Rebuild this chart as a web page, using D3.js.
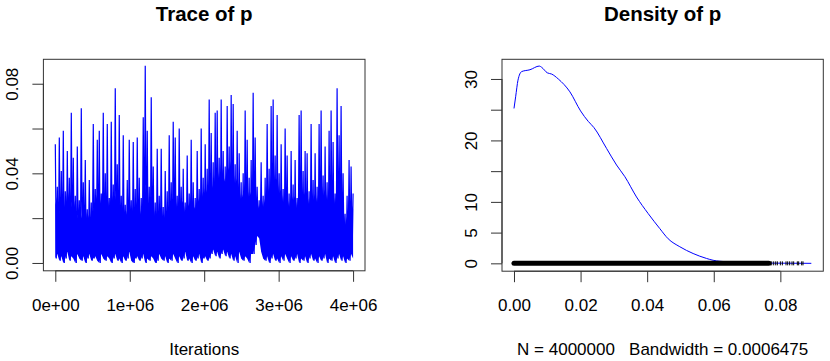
<!DOCTYPE html>
<html>
<head>
<meta charset="utf-8">
<script src="https://cdn.jsdelivr.net/npm/d3@7"></script>
<style>
    body { margin: 0; background: #fff; }
    svg { display: block; font-family: "Liberation Sans", Arial, sans-serif; }
    .tick text { font-size: 17px; fill: #000; }
    .tick line, .domain { stroke: #333; }
</style>
</head>
<body>
<div class="mc-charts"></div>
<script>
// trace of p, thinned chain: for each step a peak, a trough and the level of the dense core
var traceMaxIter = 4000000;
var traceHigh = [
    0.053, 0.034, 0.056, 0.041, 0.059, 0.032, 0.050, 0.038, 0.067, 0.047,
    0.030, 0.052, 0.028, 0.069, 0.036, 0.046, 0.024, 0.037, 0.027, 0.062,
    0.033, 0.055, 0.059, 0.031, 0.067, 0.040, 0.062, 0.029, 0.063, 0.035,
    0.078, 0.044, 0.066, 0.030, 0.057, 0.026, 0.037, 0.055, 0.028, 0.054,
    0.033, 0.056, 0.038, 0.029, 0.065, 0.088, 0.059, 0.034, 0.074, 0.043,
    0.027, 0.051, 0.030, 0.051, 0.025, 0.041, 0.032, 0.057, 0.036, 0.063,
    0.056, 0.030, 0.060, 0.034, 0.042, 0.027, 0.048, 0.031, 0.055, 0.036,
    0.029, 0.050, 0.033, 0.060, 0.038, 0.053, 0.042, 0.073, 0.058, 0.045,
    0.067, 0.068, 0.047, 0.073, 0.050, 0.043, 0.070, 0.052, 0.075, 0.071,
    0.044, 0.059, 0.049, 0.036, 0.040, 0.068, 0.055, 0.038, 0.046, 0.076,
    0.056, 0.034, 0.028, 0.045, 0.030, 0.038, 0.062, 0.042, 0.070, 0.073,
    0.048, 0.066, 0.040, 0.053, 0.033, 0.060, 0.048, 0.031, 0.050, 0.035,
    0.046, 0.029, 0.066, 0.068, 0.041, 0.050, 0.049, 0.032, 0.062, 0.037,
    0.049, 0.034, 0.062, 0.068, 0.039, 0.052, 0.036, 0.059, 0.068, 0.054,
    0.031, 0.078, 0.057, 0.070, 0.040, 0.022, 0.030, 0.046, 0.043, 0.031
];
var traceLow = [
    0.002, 0.004, 0.001, 0.003, 0.000, 0.002, 0.005, 0.001, 0.003, 0.002,
    0.000, 0.004, 0.002, 0.001, 0.003, 0.000, 0.002, 0.004, 0.001, 0.002,
    0.003, 0.001, 0.000, 0.004, 0.002, 0.001, 0.003, 0.002, 0.000, 0.002,
    0.004, 0.001, 0.002, 0.000, 0.003, 0.001, 0.002, 0.005, 0.001, 0.000,
    0.002, 0.003, 0.001, 0.002, 0.004, 0.000, 0.002, 0.001, 0.003, 0.002,
    0.000, 0.001, 0.004, 0.002, 0.001, 0.003, 0.000, 0.002, 0.001, 0.004,
    0.002, 0.000, 0.003, 0.001, 0.002, 0.005, 0.001, 0.002, 0.000, 0.003,
    0.001, 0.002, 0.004, 0.000, 0.002, 0.003, 0.001, 0.002, 0.004, 0.006,
    0.003, 0.005, 0.002, 0.004, 0.006, 0.003, 0.005, 0.002, 0.004, 0.001,
    0.003, 0.000, 0.005, 0.002, 0.001, 0.003, 0.002, 0.000, 0.004, 0.004,
    0.008, 0.012, 0.011, 0.005, 0.002, 0.001, 0.003, 0.000, 0.002, 0.004,
    0.001, 0.002, 0.000, 0.003, 0.001, 0.004, 0.002, 0.000, 0.003, 0.001,
    0.002, 0.004, 0.000, 0.002, 0.001, 0.003, 0.000, 0.002, 0.004, 0.001,
    0.002, 0.000, 0.003, 0.001, 0.002, 0.004, 0.000, 0.002, 0.001, 0.003,
    0.000, 0.002, 0.004, 0.001, 0.003, 0.000, 0.002, 0.001, 0.004, 0.002
];
var traceMid = [
    0.026, 0.030, 0.022, 0.031, 0.027, 0.024, 0.033, 0.028, 0.025, 0.030,
    0.024, 0.020, 0.026, 0.021, 0.018, 0.025, 0.019, 0.022, 0.017, 0.024,
    0.027, 0.031, 0.025, 0.029, 0.033, 0.026, 0.030, 0.024, 0.032, 0.027,
    0.030, 0.025, 0.028, 0.022, 0.027, 0.020, 0.024, 0.029, 0.021, 0.026,
    0.023, 0.028, 0.025, 0.021, 0.030, 0.034, 0.027, 0.024, 0.031, 0.026,
    0.020, 0.024, 0.019, 0.025, 0.018, 0.023, 0.021, 0.026, 0.022, 0.028,
    0.029, 0.024, 0.030, 0.026, 0.028, 0.022, 0.027, 0.025, 0.031, 0.026,
    0.024, 0.030, 0.027, 0.033, 0.029, 0.034, 0.031, 0.038, 0.036, 0.033,
    0.040, 0.043, 0.037, 0.045, 0.039, 0.036, 0.044, 0.041, 0.046, 0.042,
    0.035, 0.038, 0.033, 0.028, 0.031, 0.036, 0.034, 0.029, 0.032, 0.037,
    0.033, 0.027, 0.024, 0.030, 0.025, 0.029, 0.035, 0.031, 0.040, 0.042,
    0.036, 0.038, 0.031, 0.033, 0.027, 0.034, 0.030, 0.025, 0.031, 0.028,
    0.030, 0.024, 0.035, 0.037, 0.029, 0.032, 0.031, 0.026, 0.034, 0.028,
    0.031, 0.027, 0.035, 0.038, 0.030, 0.033, 0.028, 0.034, 0.037, 0.032,
    0.026, 0.035, 0.031, 0.033, 0.026, 0.017, 0.021, 0.029, 0.027, 0.024
];
var traceXTicks = [0, 1000000, 2000000, 3000000, 4000000];
var traceXLabels = ["0e+00", "1e+06", "2e+06", "3e+06", "4e+06"];
var traceYTicks = [0, 0.02, 0.04, 0.06, 0.08];
var traceYLabels = ["0.00", "", "0.04", "", "0.08"];

// density of p
var densX = [0, 0.0005, 0.0012, 0.0023, 0.0048, 0.0076, 0.0083, 0.0100, 0.0113, 0.0133,
    0.0168, 0.0200, 0.0223, 0.0240, 0.0278, 0.0308, 0.0333, 0.0368, 0.0403, 0.0438,
    0.0463, 0.0498, 0.0538, 0.0578, 0.0598, 0.0640, 0.0700, 0.0780, 0.0893];
var densY = [25.2, 27.1, 29.8, 31.2, 31.5, 32.1, 31.9, 31.0, 30.8, 30.0,
    27.9, 24.8, 23.1, 22.1, 18.7, 16.0, 14.1, 10.8, 8.1, 5.65,
    4.0, 2.7, 1.6, 0.8, 0.5, 0.25, 0.1, 0.03, 0.0];
var rugDense = [0, 0.0765];
var rugSparse = [0.0770, 0.0774, 0.0780, 0.0786, 0.0791, 0.0800, 0.0806,
    0.0817, 0.0822, 0.0828, 0.0835, 0.0840, 0.0851, 0.0855, 0.0864, 0.0868];
var densXTicks = [0, 0.02, 0.04, 0.06, 0.08];
var densXLabels = ["0.00", "0.02", "0.04", "0.06", "0.08"];
var densYTicks = [0, 5, 10, 15, 20, 25, 30];
var densYLabels = ["0", "5", "10", "", "20", "", "30"];

var svg = d3.select('.mc-charts')
    .append('svg')
    .attr('width', 830)
    .attr('height', 361);

function drawFrame(x, y, title, xlab, xTicks, xLabels, yTicks, yLabels) {
    var x0 = x.range()[0], x1 = x.range()[1];
    var y0 = y.range()[0], y1 = y.range()[1];
    var cx = (x0 + x1) / 2;

    svg.append('g')
        .attr('transform', 'translate(0,' + y0 + ')')
        .call(d3.axisBottom(x).tickValues(xTicks).tickSize(11).tickPadding(17)
            .tickFormat(function (d, i) { return xLabels[i]; }))
        .call(function (g) { g.select('.domain').attr('d', 'M' + x(xTicks[0]) + ',0H' + x(xTicks[xTicks.length - 1])); });

    var ya = svg.append('g')
        .attr('transform', 'translate(' + x0 + ',0)')
        .call(d3.axisLeft(y).tickValues(yTicks).tickSize(11)
            .tickFormat(function (d, i) { return yLabels[i]; }))
        .call(function (g) { g.select('.domain').attr('d', 'M0,' + y(yTicks[0]) + 'V' + y(yTicks[yTicks.length - 1])); });
    ya.selectAll('.tick text')
        .attr('x', 0)
        .attr('y', -25.5)
        .attr('dy', null)
        .attr('text-anchor', 'middle')
        .attr('transform', 'rotate(-90)');

    svg.append('rect')
        .attr('x', x0)
        .attr('y', y1)
        .attr('width', x1 - x0)
        .attr('height', y0 - y1)
        .attr('fill', 'none')
        .attr('stroke', '#333');

    svg.append('text')
        .attr('x', cx)
        .attr('y', 21)
        .attr('text-anchor', 'middle')
        .style('font-size', '20.5px')
        .style('font-weight', 'bold')
        .text(title);

    svg.append('text')
        .attr('x', cx)
        .attr('y', 355)
        .attr('text-anchor', 'middle')
        .style('font-size', '17px')
        .style('white-space', 'pre')
        .text(xlab);
}

function drawTrace() {
    var x = d3.scaleLinear().domain([-160000, 4160000]).range([43.4, 365]);
    var y = d3.scaleLinear().domain([-0.0035, 0.0909]).range([270.8, 59.3]);
    var step = traceMaxIter / (traceHigh.length - 1);

    // dense core of the chain
    svg.append('path')
        .datum(traceMid)
        .attr('fill', '#0000ff')
        .attr('d', d3.area()
            .x(function (d, i) { return x(i * step); })
            .y0(function (d, i) { return y(traceLow[i]); })
            .y1(function (d) { return y(d); }));

    // spikes: peak, then trough half a step later
    var pts = d3.merge(traceHigh.map(function (d, i) {
        return [[i * step, d], [(i + 0.5) * step, traceLow[i]]];
    }));
    pts.pop();

    svg.append('path')
        .datum(pts)
        .attr('fill', 'none')
        .attr('stroke', '#0000ff')
        .attr('stroke-width', 1.2)
        .attr('stroke-linejoin', 'bevel')
        .attr('d', d3.line()
            .x(function (d) { return x(d[0]); })
            .y(function (d) { return y(d[1]); }));

    drawFrame(x, y, 'Trace of p', 'Iterations', traceXTicks, traceXLabels, traceYTicks, traceYLabels);
}

function drawDensity() {
    var x = d3.scaleLinear().domain([-0.0036, 0.0929]).range([502, 823.3]);
    var y = d3.scaleLinear().domain([-1.28, 33.2]).range([271.2, 59.3]);

    svg.append('path')
        .datum(densX.map(function (d, i) { return [d, densY[i]]; }))
        .attr('fill', 'none')
        .attr('stroke', '#0000ff')
        .attr('stroke-width', 1)
        .attr('d', d3.line()
            .curve(d3.curveMonotoneX)
            .x(function (d) { return x(d[0]); })
            .y(function (d) { return y(d[1]); }));

    svg.append('line')
        .attr('x1', x(rugDense[0]))
        .attr('x2', x(rugDense[1]))
        .attr('y1', y(0))
        .attr('y2', y(0))
        .attr('stroke', '#000')
        .attr('stroke-width', 5)
        .attr('stroke-linecap', 'round');

    svg.selectAll('line.rug')
        .data(rugSparse)
        .enter()
        .append('line')
        .attr('class', 'rug')
        .attr('x1', function (d) { return x(d); })
        .attr('x2', function (d) { return x(d); })
        .attr('y1', y(0) - 2)
        .attr('y2', y(0) + 2)
        .attr('stroke', '#000')
        .attr('stroke-width', 1);

    drawFrame(x, y, 'Density of p', 'N = 4000000   Bandwidth = 0.0006475', densXTicks, densXLabels, densYTicks, densYLabels);
}

drawTrace();
drawDensity();
</script>
</body>
</html>
